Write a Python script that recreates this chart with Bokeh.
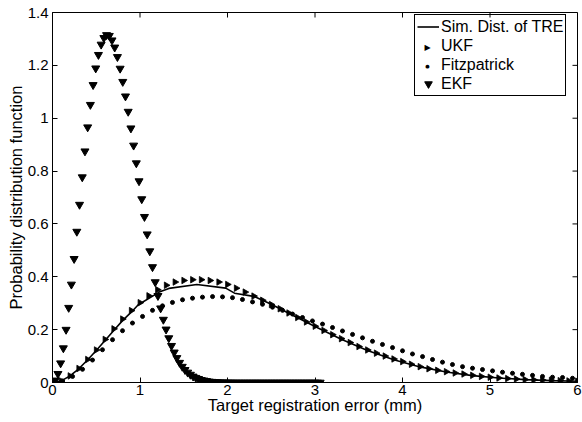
import math
from bokeh.plotting import figure
from bokeh.models import Range1d, FixedTicker, Legend, LegendItem, Label
from bokeh.embed import file_html
from bokeh.resources import INLINE

# ---------------- data ----------------
x_ticks = [0, 1, 2, 3, 4, 5, 6]
x_tick_labels = ["0", "1", "2", "3", "4", "5", "6"]
y_ticks = [0, 0.2, 0.4, 0.6, 0.8, 1.0, 1.2, 1.4]
y_tick_labels = ["0", "0.2", "0.4", "0.6", "0.8", "1", "1.2", "1.4"]
x_min, x_max = 0, 6
y_min, y_max = 0, 1.4

sim_x = [0, 0.1, 0.2, 0.3, 0.4, 0.5, 0.6, 0.7, 0.8, 0.9, 0.98, 1.22, 1.33, 1.65,
         1.98, 2.08, 2.3, 2.5, 2.7, 3.0, 3.3, 3.6, 3.9, 4.2, 4.5, 4.8, 5.1, 5.4, 5.7, 6.0]
sim_y = [0, 0.006, 0.025, 0.052, 0.085, 0.121, 0.159, 0.197, 0.234, 0.266, 0.294, 0.342,
         0.356, 0.371, 0.357, 0.338, 0.326, 0.296, 0.262, 0.212, 0.164, 0.121, 0.086,
         0.059, 0.040, 0.026, 0.017, 0.011, 0.007, 0.005]

ukf_x = [0.0, 0.1, 0.2, 0.3, 0.4, 0.5, 0.6, 0.7, 0.8, 0.9,
         1.0, 1.1, 1.2, 1.3, 1.4, 1.5, 1.6, 1.7, 1.8, 1.9,
         2.0, 2.1, 2.2, 2.3, 2.4, 2.5, 2.6, 2.7, 2.8, 2.9,
         3.0, 3.1, 3.2, 3.3, 3.4, 3.5, 3.6, 3.7, 3.8, 3.9,
         4.0, 4.1, 4.2, 4.3, 4.4, 4.5, 4.6, 4.7, 4.8, 4.9,
         5.0, 5.1, 5.2, 5.3, 5.4, 5.5, 5.6, 5.7, 5.8, 5.9,
         6.0]
ukf_y = [0.0, 0.006, 0.025, 0.053, 0.087, 0.123, 0.163, 0.203, 0.240, 0.272,
         0.302, 0.328, 0.351, 0.368, 0.380, 0.386, 0.389, 0.389, 0.386, 0.380,
         0.371, 0.357, 0.342, 0.327, 0.311, 0.295, 0.279, 0.263, 0.246, 0.229,
         0.213, 0.197, 0.181, 0.166, 0.151, 0.136, 0.123, 0.111, 0.100, 0.089,
         0.079, 0.069, 0.060, 0.052, 0.046, 0.041, 0.036, 0.032, 0.027, 0.023,
         0.020, 0.017, 0.015, 0.013, 0.011, 0.010, 0.009, 0.008, 0.007, 0.006,
         0.005]

fitz_x = [0.000, 0.114, 0.229, 0.343, 0.457, 0.571, 0.686, 0.800, 0.914, 1.029,
          1.143, 1.257, 1.371, 1.486, 1.600, 1.714, 1.829, 1.943, 2.057, 2.171,
          2.286, 2.400, 2.514, 2.629, 2.743, 2.857, 2.971, 3.086, 3.200, 3.314,
          3.429, 3.543, 3.657, 3.771, 3.886, 4.000, 4.114, 4.229, 4.343, 4.457,
          4.571, 4.686, 4.800, 4.914, 5.029, 5.143, 5.257, 5.371, 5.486, 5.600,
          5.714, 5.829, 5.943]
fitz_y = [0.0, 0.006, 0.023, 0.050, 0.085, 0.124, 0.162, 0.196, 0.225, 0.250,
          0.273, 0.290, 0.303, 0.313, 0.319, 0.323, 0.325, 0.324, 0.321, 0.314,
          0.305, 0.296, 0.285, 0.273, 0.259, 0.246, 0.233, 0.221, 0.208, 0.195,
          0.182, 0.169, 0.156, 0.144, 0.132, 0.120, 0.108, 0.098, 0.087, 0.077,
          0.068, 0.060, 0.054, 0.049, 0.044, 0.039, 0.035, 0.031, 0.027, 0.023,
          0.020, 0.019, 0.016]

ekf_x = [0.000, 0.031, 0.062, 0.093, 0.124, 0.155, 0.185, 0.216, 0.247, 0.278,
         0.309, 0.340, 0.371, 0.402, 0.433, 0.464, 0.494, 0.525, 0.556, 0.587,
         0.618, 0.649, 0.680, 0.711, 0.742, 0.773, 0.803, 0.834, 0.865, 0.896,
         0.927, 0.958, 0.989, 1.020, 1.051, 1.082, 1.112, 1.143, 1.174, 1.205,
         1.236, 1.267, 1.298, 1.329, 1.360, 1.391, 1.421, 1.452, 1.483, 1.514,
         1.545, 1.576, 1.607, 1.638, 1.669, 1.700, 1.730, 1.761, 1.792, 1.823,
         1.854, 1.885, 1.916, 1.947, 1.978, 2.009, 2.039, 2.070, 2.101, 2.132,
         2.163, 2.194, 2.225, 2.256, 2.287, 2.318, 2.348, 2.379, 2.410, 2.441,
         2.472, 2.503, 2.534, 2.565, 2.596, 2.627, 2.657, 2.688, 2.719, 2.750,
         2.781, 2.812, 2.843, 2.874, 2.905, 2.936, 2.966, 2.997, 3.028, 3.059]
ekf_y = [0.0, 0.008, 0.033, 0.073, 0.130, 0.200, 0.283, 0.371, 0.468, 0.571,
         0.673, 0.777, 0.875, 0.966, 1.051, 1.126, 1.189, 1.240, 1.279, 1.304,
         1.315, 1.312, 1.295, 1.268, 1.232, 1.188, 1.138, 1.083, 1.025, 0.962,
         0.897, 0.830, 0.762, 0.694, 0.627, 0.561, 0.497, 0.437, 0.380, 0.328,
         0.281, 0.238, 0.201, 0.168, 0.139, 0.114, 0.093, 0.075, 0.060, 0.048,
         0.038, 0.030, 0.023, 0.018, 0.014, 0.010, 0.008, 0.006, 0.004, 0.003,
         0.002, 0.0015, 0.001, 0.0007, 0.0005, 0.0003, 0.0002, 0.0001, 0.0, 0.0,
         0.0, 0.0, 0.0, 0.0, 0.0, 0.0, 0.0, 0.0, 0.0, 0.0,
         0.0, 0.0, 0.0, 0.0, 0.0, 0.0, 0.0, 0.0, 0.0, 0.0,
         0.0, 0.0, 0.0, 0.0, 0.0, 0.0, 0.0, 0.0, 0.0, 0.0]

legend_labels = ["Sim. Dist. of TRE", "UKF", "Fitzpatrick", "EKF"]
x_label = "Target registration error (mm)"
y_label = "Probability distribution function"

FONT = "Liberation Sans"
TICK_LEN = 5

# ---------------- figure ----------------
p = figure(width=582, height=422, x_range=Range1d(x_min, x_max), y_range=Range1d(y_min, y_max),
           output_backend="svg", toolbar_location=None,
           min_border_left=52, min_border_right=5, min_border_top=12, min_border_bottom=40)
p.grid.visible = False
p.background_fill_color = "white"
p.border_fill_color = "white"
p.outline_line_color = "black"
p.outline_line_alpha = 1.0
p.outline_line_width = 1

def style_axis(ax, ticks, labels, standoff):
    ax.ticker = FixedTicker(ticks=ticks)
    ax.major_label_overrides = {t: l for t, l in zip(ticks, labels)}
    ax.axis_line_color = "black"
    ax.major_tick_line_color = "black"
    ax.major_tick_in = TICK_LEN
    ax.major_tick_out = 0
    ax.minor_tick_line_color = None
    ax.major_label_text_font = FONT
    ax.major_label_text_color = "black"
    ax.major_label_text_font_size = "15px"
    ax.major_label_standoff = standoff

xa = p.xaxis[0]
ya = p.yaxis[0]
style_axis(xa, x_ticks, x_tick_labels, standoff=2)
style_axis(ya, y_ticks, y_tick_labels, standoff=4)
xa.axis_label = x_label
ya.axis_label = y_label
for ax in (xa, ya):
    ax.axis_label_text_font = FONT
    ax.axis_label_text_font_size = "16.5px"
    ax.axis_label_text_font_style = "normal"
    ax.axis_label_text_color = "black"
xa.axis_label_standoff = -2
ya.axis_label_standoff = 0

# inward ticks on the top and right edges of the box (MATLAB "box on")
p.ray(x=x_ticks, y=[y_max] * len(x_ticks), length=TICK_LEN, length_units="screen",
      angle=-math.pi / 2, line_color="black", line_width=1)
p.ray(x=[x_max] * len(y_ticks), y=y_ticks, length=TICK_LEN, length_units="screen",
      angle=math.pi, line_color="black", line_width=1)

# ---------------- glyphs ----------------
r_sim = p.line(sim_x, sim_y, line_color="black", line_width=1.6)
r_ukf = p.scatter(ukf_x, ukf_y, marker="triangle", angle=-math.pi / 2, size=6.5,
                  fill_color="black", line_color="black", line_width=0.8)
r_fitz = p.scatter(fitz_x, fitz_y, marker="circle", size=4,
                   fill_color="black", line_color="black")
r_ekf = p.scatter(ekf_x, ekf_y, marker="inverted_triangle", size=8,
                  fill_color="black", line_color="black")

# invisible stand-ins: Bokeh's legend cannot rotate or shrink markers,
# so the UKF and Fitzpatrick legend symbols are drawn as text below
r_ukf_key = p.scatter([], [], marker="triangle", fill_alpha=0, line_alpha=0)
r_fitz_key = p.scatter([], [], marker="circle", fill_alpha=0, line_alpha=0)

LEG_X, LEG_Y = 362, 286          # legend bottom-left, px from frame bottom-left
PAD, GLYPH_W, ROW_H = 2, 22, 19
LEG_H = 2 * PAD + 4 * ROW_H

legend = Legend(items=[
    LegendItem(label=legend_labels[0], renderers=[r_sim]),
    LegendItem(label=legend_labels[1], renderers=[r_ukf_key]),
    LegendItem(label=legend_labels[2], renderers=[r_fitz_key]),
    LegendItem(label=legend_labels[3], renderers=[r_ekf]),
], location=(LEG_X, LEG_Y))
legend.margin = 0
legend.padding = PAD
legend.spacing = 0
legend.glyph_width = GLYPH_W
legend.glyph_height = ROW_H
legend.label_height = ROW_H
legend.label_standoff = 2
legend.label_text_font = FONT
legend.label_text_font_size = "16px"
legend.label_text_color = "black"
legend.border_line_color = "black"
legend.border_line_width = 1
legend.border_line_alpha = 1.0
legend.background_fill_alpha = 0.0
p.add_layout(legend, "center")

key_cx = LEG_X + PAD + GLYPH_W / 2
def row_cy(i):
    return LEG_Y + LEG_H - PAD - ROW_H * i - ROW_H / 2

p.add_layout(Label(x=key_cx, y=row_cy(1), x_units="screen", y_units="screen",
                   text="\u25B6", text_font="DejaVu Sans", text_font_size="8px",
                   text_align="center", text_baseline="middle", text_color="black"))
p.add_layout(Label(x=key_cx, y=row_cy(2), x_units="screen", y_units="screen",
                   text="\u25CF", text_font="DejaVu Sans", text_font_size="5px",
                   text_align="center", text_baseline="middle", text_color="black"))

open("out.html", "w").write(file_html(p, INLINE))
